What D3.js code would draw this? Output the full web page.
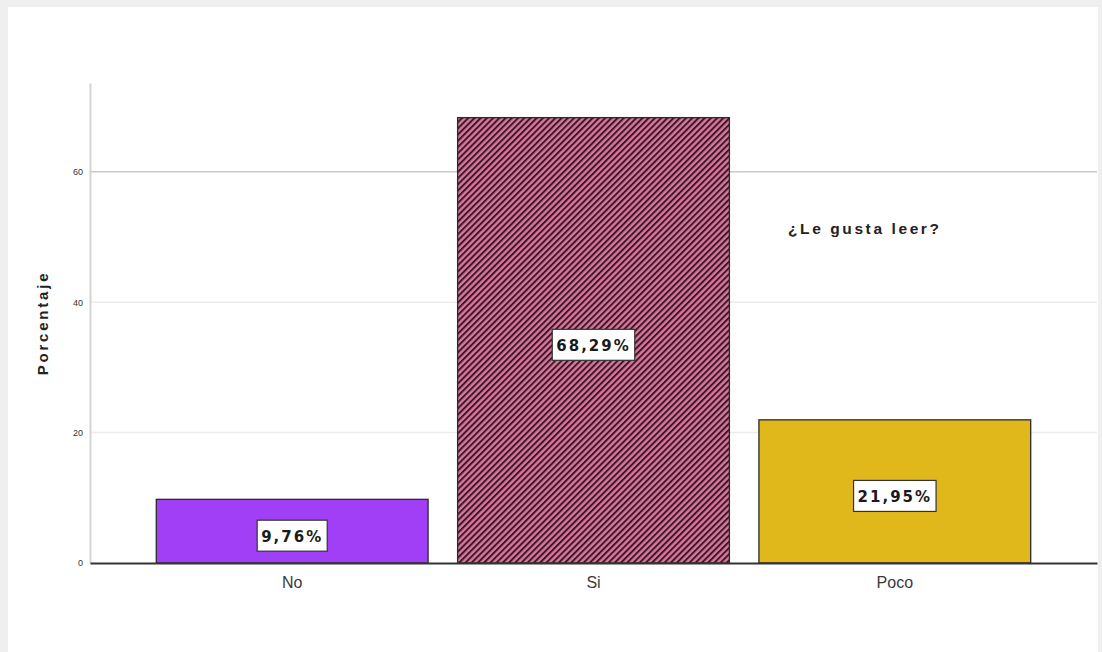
<!DOCTYPE html>
<html><head><meta charset="utf-8">
<script src="https://cdn.jsdelivr.net/npm/d3@7/dist/d3.min.js"></script>
<style>
html,body{margin:0;padding:0;background:#efefef;}
svg{display:block;}
</style></head>
<body>
<script>
const categories = ["No", "Si", "Poco"];
const values = [9.76, 68.29, 21.95];
const valueLabels = ["9,76%", "68,29%", "21,95%"];
const tickValues = [0, 20, 40, 60];
const colors = ["#a03ff6", "#dc769a", "#e0b81c"];
const yTitle = "Porcentaje";
const legendTitle = "¿Le gusta leer?";

const W = 1102, H = 652;
const svg = d3.select("body").append("svg").attr("width", W).attr("height", H);
svg.append("rect").attr("x", 0).attr("y", 0).attr("width", W).attr("height", H).attr("fill", "#efefef");
svg.append("rect").attr("x", 8).attr("y", 7).attr("width", 1090).attr("height", H - 7).attr("fill", "#ffffff");

const defs = svg.append("defs");
const pat = defs.append("pattern").attr("id", "hatch").attr("patternUnits", "userSpaceOnUse")
  .attr("width", 4.4).attr("height", 4.4).attr("patternTransform", "rotate(45)");
pat.append("rect").attr("width", 4.4).attr("height", 4.4).attr("fill", colors[1]);
pat.append("rect").attr("x", 0).attr("y", 0).attr("width", 2).attr("height", 4.4).attr("fill", "#3a1a2a");

const x0 = 90, x1 = 1097, yTop = 83, yBot = 563;
const x = d3.scaleBand().domain(categories).range([x0, x1]).paddingInner(0.098).paddingOuter(0.22);
const y = d3.scaleLinear().domain([0, 73.6]).range([yBot, yTop]);

// gridlines
svg.append("g").selectAll("line").data(tickValues.filter(d => d > 0)).join("line")
  .attr("x1", x0).attr("x2", x1)
  .attr("y1", d => y(d)).attr("y2", d => y(d))
  .attr("stroke", d => d === 60 ? "#c9c9c9" : "#ececec").attr("stroke-width", 1.5);

// y axis
const yAxis = d3.axisLeft(y).tickValues(tickValues).tickSize(0).tickPadding(7).tickFormat(d3.format("d"));
const gy = svg.append("g").attr("transform", `translate(${x0},0)`).call(yAxis);
gy.select(".domain").attr("stroke", "#d4d4d4").attr("stroke-width", 2);
gy.selectAll("text").attr("font-family", "Liberation Sans, Arial, sans-serif").attr("font-size", 9).attr("fill", "#333");

// bars
svg.append("g").selectAll("rect").data(categories).join("rect")
  .attr("x", d => x(d)).attr("width", x.bandwidth())
  .attr("y", (d, i) => y(values[i])).attr("height", (d, i) => y(0) - y(values[i]))
  .attr("fill", (d, i) => i === 1 ? "url(#hatch)" : colors[i])
  .attr("stroke", "#2a2a2a").attr("stroke-width", 1.3);

// x axis
const xAxis = d3.axisBottom(x).tickSize(0).tickPadding(14);
const gx = svg.append("g").attr("transform", `translate(0,${yBot})`).call(xAxis);
gx.select(".domain").attr("stroke", "#333").attr("stroke-width", 2);
gx.selectAll("text").attr("font-family", "Liberation Sans, Arial, sans-serif").attr("font-size", 16).attr("fill", "#3a3a3a");

// value labels
const lab = svg.append("g").selectAll("g").data(categories).join("g")
  .attr("transform", (d, i) => `translate(${x(d) + x.bandwidth() / 2},${y(values[i] / 2) + 5})`);
lab.append("text")
  .attr("text-anchor", "middle").attr("dy", "0.36em")
  .attr("font-family", "DejaVu Sans, sans-serif").attr("font-weight", "bold")
  .attr("font-size", 15).attr("letter-spacing", 2).attr("fill", "#1a1a1a")
  .text((d, i) => valueLabels[i]);
lab.each(function () {
  const g = d3.select(this);
  const bb = g.select("text").node().getBBox();
  g.insert("rect", "text").attr("x", bb.x - 4).attr("y", -16).attr("width", bb.width + 8).attr("height", 31)
    .attr("fill", "#fff").attr("stroke", "#333").attr("stroke-width", 1.2);
});

// y title
svg.append("text").attr("transform", `translate(48,323) rotate(-90)`)
  .attr("text-anchor", "middle").attr("font-family", "Liberation Sans, Arial, sans-serif")
  .attr("font-weight", "bold").attr("font-size", 15).attr("letter-spacing", 2.8).attr("fill", "#222")
  .text(yTitle);

// legend title
svg.append("text").attr("x", 788).attr("y", 234)
  .attr("font-family", "Liberation Sans, Arial, sans-serif")
  .attr("font-weight", "bold").attr("font-size", 15.5).attr("letter-spacing", 2.6).attr("fill", "#222")
  .text(legendTitle);
</script>
</body></html>
